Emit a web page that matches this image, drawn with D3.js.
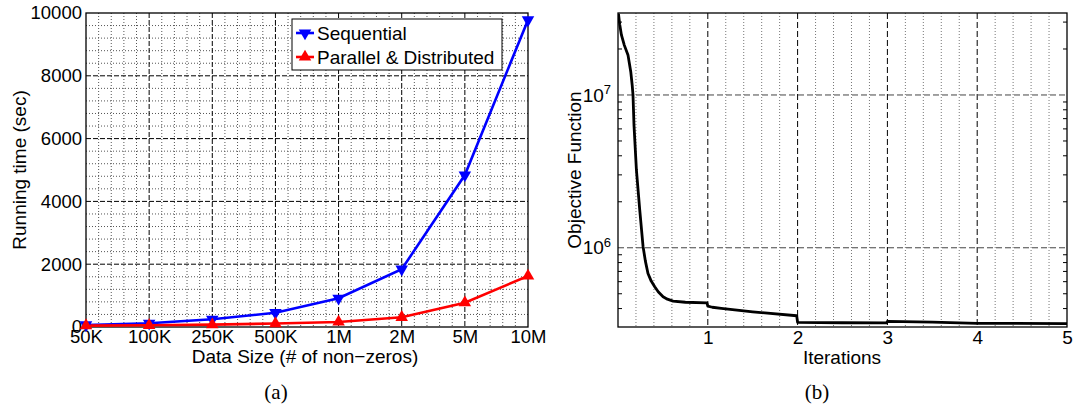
<!DOCTYPE html>
<html lang="en">
<head>
<meta charset="utf-8">
<title>Running time and objective</title>
<script src="https://d3js.org/d3.v7.min.js"></script>
<style>
  body { margin: 0; background: #fff; }
  svg text { font-family: "Liberation Sans", Arial, sans-serif; fill: #000; }
  .cap { font-family: "Liberation Serif", "Times New Roman", serif; }
</style>
</head>
<body>
<div id="chart"></div>
<script>
// ---- data: (a) running time vs data size
var sizeLabels = ["50K", "100K", "250K", "500K", "1M", "2M", "5M", "10M"];
var seqTime = [64, 118, 245, 455, 914, 1840, 4840, 9780];
var parTime = [45, 55, 75, 110, 160, 309, 774, 1624];
var timeTicks = [0, 2000, 4000, 6000, 8000, 10000];

// ---- data: (b) objective function vs iterations
var iterX = [0.005, 0.02, 0.038, 0.07, 0.111, 0.142, 0.158, 0.167, 0.178, 0.205, 0.242, 0.279,
             0.305, 0.334, 0.37, 0.409, 0.45, 0.502, 0.55, 0.613, 0.75, 0.99,
             1.0, 1.05, 1.15, 1.5, 1.99, 2.0, 2.5, 2.99, 3.0, 3.5, 4.0, 5.0];
var objValue = [3.4e7, 2.87e7, 2.47e7, 2.12e7, 1.83e7, 1.42e7, 1.16e7, 1.0e7, 6.36e6, 3.23e6, 1.77e6, 1.02e6,
                8.18e5, 6.79e5, 6.05e5, 5.56e5, 5.13e5, 4.78e5, 4.61e5, 4.48e5, 4.4e5, 4.36e5,
                4.15e5, 4.08e5, 4.01e5, 3.81e5, 3.59e5, 3.25e5, 3.23e5, 3.22e5, 3.3e5, 3.26e5, 3.2e5, 3.19e5];
var iterTicks = [1, 2, 3, 4, 5];
var objTicks = [1e6, 1e7];

var width = 1075, height = 406;

var svg = d3.select("#chart").append("svg")
    .attr("width", width)
    .attr("height", height);

svg.append("rect").attr("width", width).attr("height", height).attr("fill", "#fff");

// ================= (a) =================
var a = { left: 86, right: 528, top: 13, bottom: 327 };

var xA = d3.scaleLinear().domain([0, sizeLabels.length - 1]).range([a.left, a.right]);
var yA = d3.scaleLinear().domain([0, 10000]).range([a.bottom, a.top]);

var gA = svg.append("g");

// minor grid
gA.append("g")
    .selectAll("line.vminor")
    .data(d3.range(0, 7.001, 0.2).filter(function(d) { return Math.abs(d - Math.round(d)) > 0.01; }))
    .enter().append("line")
    .attr("x1", function(d) { return xA(d); }).attr("x2", function(d) { return xA(d); })
    .attr("y1", a.top).attr("y2", a.bottom)
    .attr("stroke", "#555").attr("stroke-dasharray", "1,2");

gA.append("g")
    .selectAll("line.hminor")
    .data(d3.range(0, 10001, 400).filter(function(d) { return d % 2000 != 0; }))
    .enter().append("line")
    .attr("x1", a.left).attr("x2", a.right)
    .attr("y1", function(d) { return yA(d); }).attr("y2", function(d) { return yA(d); })
    .attr("stroke", "#555").attr("stroke-dasharray", "1,2");

// major grid
gA.append("g")
    .selectAll("line")
    .data(d3.range(1, 7))
    .enter().append("line")
    .attr("x1", function(d) { return xA(d); }).attr("x2", function(d) { return xA(d); })
    .attr("y1", a.top).attr("y2", a.bottom)
    .attr("stroke", "#000").attr("stroke-dasharray", "5,2");

gA.append("g")
    .selectAll("line")
    .data(timeTicks.slice(1, -1))
    .enter().append("line")
    .attr("x1", a.left).attr("x2", a.right)
    .attr("y1", function(d) { return yA(d); }).attr("y2", function(d) { return yA(d); })
    .attr("stroke", "#000").attr("stroke-dasharray", "5,2");

gA.append("rect")
    .attr("x", a.left).attr("y", a.top)
    .attr("width", a.right - a.left).attr("height", a.bottom - a.top)
    .attr("fill", "none").attr("stroke", "#000").attr("stroke-width", 1.3);

// axes
var xAxisA = gA.append("g")
    .attr("transform", "translate(0," + a.bottom + ")")
    .call(d3.axisBottom(xA).tickValues(d3.range(8)).tickSize(0).tickPadding(3)
        .tickFormat(function(i) { return sizeLabels[i]; }));
var yAxisA = gA.append("g")
    .attr("transform", "translate(" + a.left + ",0)")
    .call(d3.axisLeft(yA).tickValues(timeTicks).tickSize(0).tickPadding(4)
        .tickFormat(d3.format("d")));
[xAxisA, yAxisA].forEach(function(ax) {
    ax.select(".domain").remove();
    ax.selectAll("text").attr("font-size", 18.5).attr("font-family", null).attr("fill", "#000");
});

// series
var lineA = d3.line()
    .x(function(d, i) { return xA(i); })
    .y(function(d) { return yA(d); });

gA.append("path").datum(seqTime)
    .attr("d", lineA).attr("fill", "none").attr("stroke", "#0000ff").attr("stroke-width", 2.6);
gA.append("path").datum(parTime)
    .attr("d", lineA).attr("fill", "none").attr("stroke", "#ff0000").attr("stroke-width", 2.6);

var tri = d3.symbol().type(d3.symbolTriangle).size(68);

gA.append("g").selectAll("path")
    .data(seqTime).enter().append("path")
    .attr("d", tri)
    .attr("transform", function(d, i) { return "translate(" + xA(i) + "," + yA(d) + ") rotate(180)"; })
    .attr("fill", "#0000ff");
gA.append("g").selectAll("path")
    .data(parTime).enter().append("path")
    .attr("d", tri)
    .attr("transform", function(d, i) { return "translate(" + xA(i) + "," + yA(d) + ")"; })
    .attr("fill", "#ff0000");

// legend
var leg = gA.append("g");
leg.append("rect")
    .attr("x", 292).attr("y", 19).attr("width", 210).attr("height", 51)
    .attr("fill", "#fff").attr("stroke", "#000").attr("stroke-width", 1);
var legItems = [
    { name: "Sequential", color: "#0000ff", rot: 180, y: 33 },
    { name: "Parallel & Distributed", color: "#ff0000", rot: 0, y: 57 }
];
legItems.forEach(function(it) {
    leg.append("line")
        .attr("x1", 296).attr("x2", 314).attr("y1", it.y).attr("y2", it.y)
        .attr("stroke", it.color).attr("stroke-width", 2.6);
    leg.append("path").attr("d", tri)
        .attr("transform", "translate(305," + it.y + ") rotate(" + it.rot + ")")
        .attr("fill", it.color);
    leg.append("text").attr("x", 317).attr("y", it.y + 7)
        .attr("font-size", 19).text(it.name);
});

// titles
gA.append("text")
    .attr("x", 305).attr("y", 363)
    .attr("text-anchor", "middle").attr("font-size", 19)
    .text("Data Size (# of non\u2212zeros)");
gA.append("text")
    .attr("transform", "translate(26," + ((a.top + a.bottom) / 2) + ") rotate(-90)")
    .attr("text-anchor", "middle").attr("font-size", 19)
    .text("Running time (sec)");
gA.append("text").attr("class", "cap")
    .attr("x", 276).attr("y", 399)
    .attr("text-anchor", "middle").attr("font-size", 21)
    .text("(a)");

// ================= (b) =================
var b = { left: 618, right: 1067, top: 13, bottom: 327 };

var xB = d3.scaleLinear().domain([0, 5]).range([b.left, b.right]);
var yB = d3.scaleLog().domain([3.03e5, 3.44e7]).range([b.bottom, b.top]);

var gB = svg.append("g");

gB.append("clipPath").attr("id", "clipB")
    .append("rect")
    .attr("x", b.left).attr("y", b.top)
    .attr("width", b.right - b.left).attr("height", b.bottom - b.top);

// minor vertical grid
gB.append("g").selectAll("line")
    .data(d3.range(0.2, 5, 0.2).filter(function(d) { return Math.abs(d - Math.round(d)) > 0.01; }))
    .enter().append("line")
    .attr("x1", function(d) { return xB(d); }).attr("x2", function(d) { return xB(d); })
    .attr("y1", b.top).attr("y2", b.bottom)
    .attr("stroke", "#777").attr("stroke-dasharray", "1,2");

// major grid
gB.append("g").selectAll("line")
    .data(iterTicks.slice(0, -1))
    .enter().append("line")
    .attr("x1", function(d) { return xB(d); }).attr("x2", function(d) { return xB(d); })
    .attr("y1", b.top).attr("y2", b.bottom)
    .attr("stroke", "#000").attr("stroke-dasharray", "6,3");

gB.append("g").selectAll("line")
    .data(objTicks)
    .enter().append("line")
    .attr("x1", b.left).attr("x2", b.right)
    .attr("y1", function(d) { return yB(d); }).attr("y2", function(d) { return yB(d); })
    .attr("stroke", "#444").attr("stroke-dasharray", "6,3");

// minor log ticks on both sides
var minorLog = [];
[5, 6, 7].forEach(function(e) {
    for (var m = 2; m <= 9; m++) {
        var v = m * Math.pow(10, e);
        if (v > yB.domain()[0] && v < yB.domain()[1]) minorLog.push(v);
    }
});
gB.append("g").selectAll("line")
    .data(minorLog).enter().append("line")
    .attr("x1", b.left).attr("x2", b.left + 4)
    .attr("y1", function(d) { return yB(d); }).attr("y2", function(d) { return yB(d); })
    .attr("stroke", "#000");
gB.append("g").selectAll("line")
    .data(minorLog).enter().append("line")
    .attr("x1", b.right).attr("x2", b.right - 4)
    .attr("y1", function(d) { return yB(d); }).attr("y2", function(d) { return yB(d); })
    .attr("stroke", "#000");

// curve
var lineB = d3.line()
    .x(function(d, i) { return xB(iterX[i]); })
    .y(function(d) { return yB(d); });

gB.append("path").datum(objValue)
    .attr("clip-path", "url(#clipB)")
    .attr("d", lineB).attr("fill", "none")
    .attr("stroke", "#000").attr("stroke-width", 2.8).attr("stroke-linejoin", "round");

gB.append("rect")
    .attr("x", b.left).attr("y", b.top)
    .attr("width", b.right - b.left).attr("height", b.bottom - b.top)
    .attr("fill", "none").attr("stroke", "#000").attr("stroke-width", 1.3);

// axes
var xAxisB = gB.append("g")
    .attr("transform", "translate(0," + b.bottom + ")")
    .call(d3.axisBottom(xB).tickValues(iterTicks).tickSize(0).tickPadding(4).tickFormat(d3.format("d")));
xAxisB.select(".domain").remove();
xAxisB.selectAll("text").attr("font-size", 19).attr("font-family", null);

var yAxisB = gB.append("g")
    .attr("transform", "translate(" + b.left + ",0)")
    .call(d3.axisLeft(yB).tickValues(objTicks).tickSize(0).tickPadding(7).tickFormat(""));
yAxisB.select(".domain").remove();
yAxisB.selectAll(".tick text").each(function(d) {
    var t = d3.select(this).attr("font-size", 19).attr("font-family", null);
    t.append("tspan").text("10");
    t.append("tspan").attr("font-size", 13).attr("dy", "-0.55em").text(Math.round(Math.log10(d)));
});

gB.append("text")
    .attr("x", 842).attr("y", 364)
    .attr("text-anchor", "middle").attr("font-size", 19)
    .text("Iterations");
gB.append("text")
    .attr("transform", "translate(581," + ((b.top + b.bottom) / 2) + ") rotate(-90)")
    .attr("text-anchor", "middle").attr("font-size", 19)
    .text("Objective Function");
gB.append("text").attr("class", "cap")
    .attr("x", 817).attr("y", 399)
    .attr("text-anchor", "middle").attr("font-size", 21)
    .text("(b)");
</script>
</body>
</html>
